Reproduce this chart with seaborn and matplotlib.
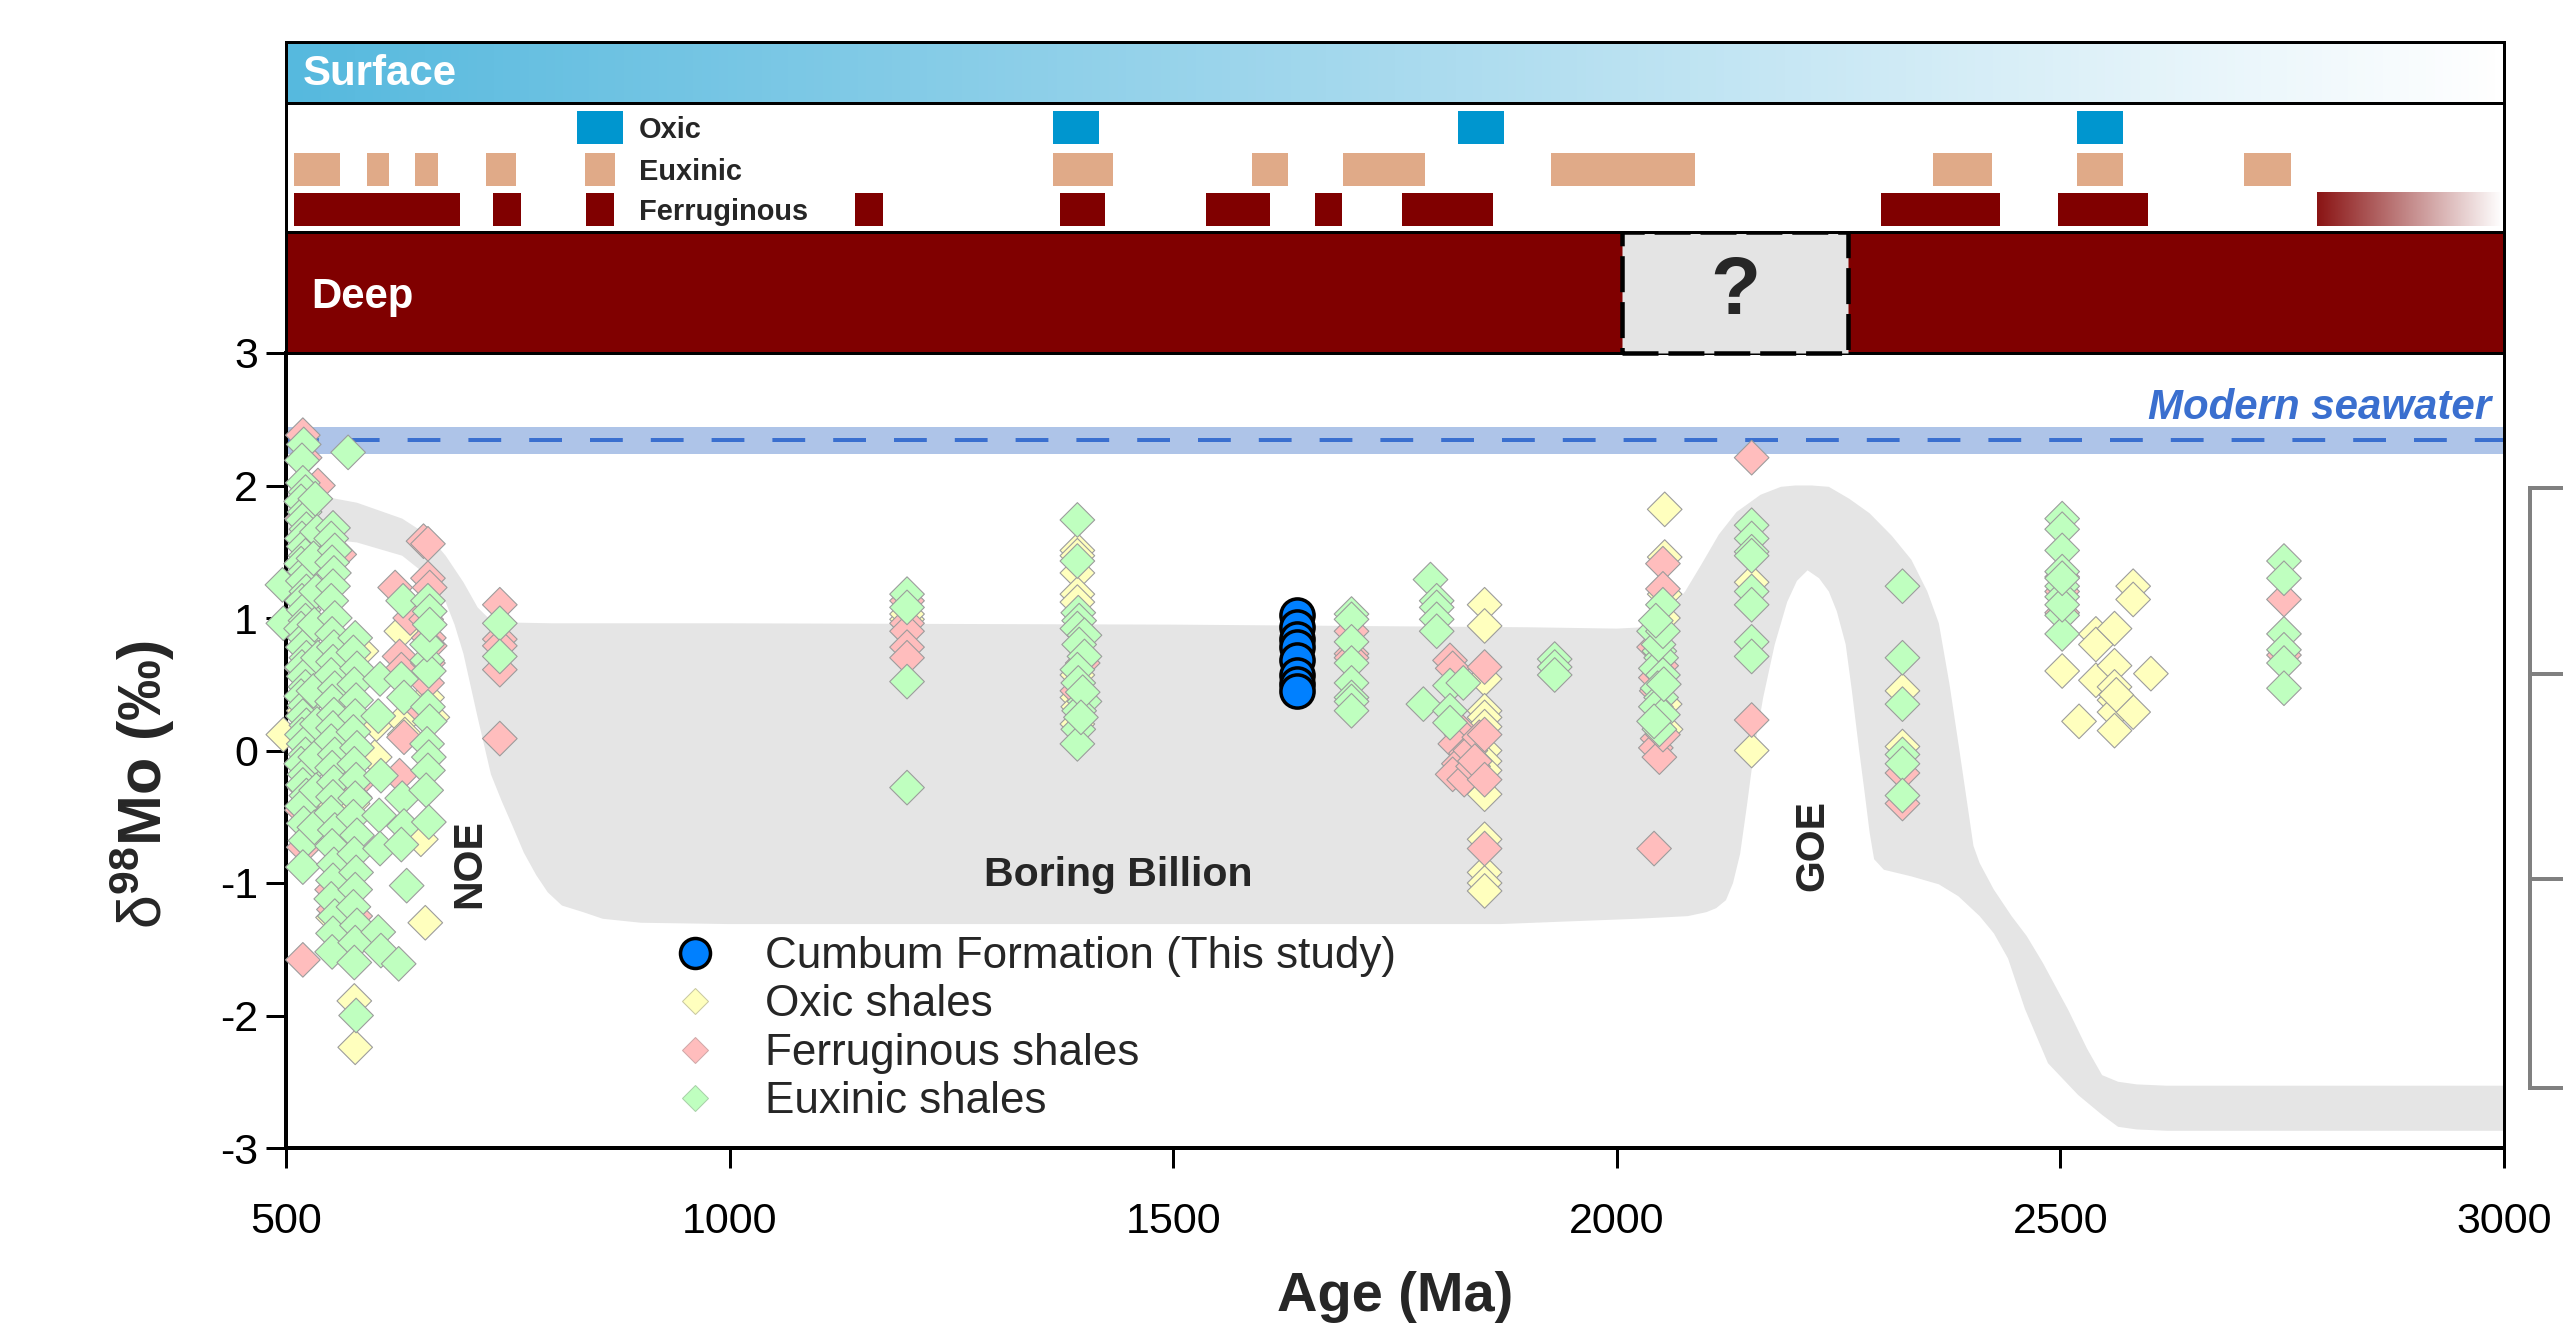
import numpy as np
import pandas as pd
import matplotlib
matplotlib.use("Agg")
import matplotlib.pyplot as plt
import seaborn as sns
from matplotlib.colors import LinearSegmentedColormap
from matplotlib.lines import Line2D
from matplotlib.patches import Rectangle, Polygon

sns.set_style("ticks")
plt.rcParams['font.family'] = ['Liberation Sans', 'DejaVu Sans']
plt.rcParams['axes.unicode_minus'] = False
plt.rcParams['mathtext.fontset'] = 'custom'
plt.rcParams['mathtext.rm'] = 'Liberation Sans'
plt.rcParams['mathtext.bf'] = 'Liberation Sans:bold'
plt.rcParams['mathtext.it'] = 'Liberation Sans:italic'

# ---------------- data ----------------
cumbum_age = [1640, 1640, 1640, 1640, 1640, 1640, 1640, 1640]
cumbum_d98 = [1.02, 0.93, 0.84, 0.78, 0.68, 0.57, 0.50, 0.45]

oxic_age = [497, 520, 518, 545, 553, 562, 560, 575, 575, 577, 578, 570, 585, 600, 602, 630, 632, 634,
            652, 659, 657, 665, 540, 585,
            1200, 1200,
            1392, 1392, 1392, 1392, 1392, 1392, 1392, 1392, 1393,
            1851, 1851, 1851, 1851, 1851, 1851, 1851, 1851, 1851, 1851, 1851, 1851, 1851, 1851,
            2054, 2054, 2054, 2052, 2054, 2055,
            2152, 2152, 2322, 2322, 2502,
            2521, 2540, 2540, 2540, 2561, 2561, 2561, 2561, 2561, 2561, 2582, 2582, 2582, 2602, 2563]
oxic_d98 = [0.12, 0.30, 0.62, 0.60, -1.26, 0.70, 0.35, -0.40, -1.45, -1.89, -2.24, 0.55, 0.75, -0.05, 0.20, 0.90, 0.23, 0.12,
            -0.67, 0.40, -1.30, 0.25, -0.35, -1.40,
            0.99, 1.03,
            1.51, 1.47, 1.34, 1.18, 1.12, 0.57, 0.40, 0.20, 0.33,
            1.10, 0.94, 0.54, 0.30, 0.25, 0.18, 0.00, -0.08, -0.15, -0.33, -0.67, -0.92, -1.00, -1.06,
            1.82, 1.46, 1.18, 1.00, 0.35, 0.16,
            1.27, 0.00, 0.45, 0.03, 0.60,
            0.22, 0.88, 0.80, 0.53, 0.92, 0.64, 0.48, 0.38, 0.29, 0.15, 1.24, 1.14, 0.29, 0.58, 0.42]

ferr_age = [519, 521, 536, 518, 520, 522, 519, 521, 518, 520, 519, 537, 546, 560, 553, 555, 552, 554, 565, 563,
            580, 578, 577, 623, 640, 628, 630, 628, 633, 655, 660, 660, 662, 658, 661, 662, 660, 659, 655,
            741, 741, 741, 741, 741,
            1200, 1200, 1200, 1200, 1200,
            1398, 1392,
            1701, 1701, 1701,
            1812, 1815, 1820, 1825, 1818, 1830, 1822, 1815, 1828, 1835, 1838, 1845, 1840,
            1851, 1851, 1851, 1851,
            2052, 2052, 2042, 2050, 2044, 2046, 2044, 2048, 2042, 2052, 2045,
            2152, 2152, 2322, 2322,
            2502, 2502, 2502, 2752, 2752]
ferr_d98 = [2.38, 2.21, 2.00, 1.75, 1.20, 0.60, -0.10, -0.28, -0.45, -0.73, -1.58, 0.45, 1.50, 1.48, 0.20, -0.55, -1.05, -1.20, 0.05, -0.55,
            -0.25, -1.25, -0.35, 1.23, 1.00, 0.71, 0.61, -0.19, 0.10, 1.58, 1.56, 1.30, 1.23, 0.99, 0.85, 0.79, 0.66, 0.51, 0.30,
            1.10, 0.84, 0.79, 0.61, 0.09,
            1.13, 0.96, 0.90, 0.78, 0.70,
            0.66, 0.45,
            0.90, 0.73, 0.70,
            0.68, 0.62, 0.18, 0.12, 0.05, -0.02, -0.10, -0.18, -0.22, 0.00, -0.12, 0.10, -0.08,
            0.63, 0.12, -0.22, -0.74,
            1.41, 1.22, 0.78, 0.64, 0.55, 0.09, 0.02, -0.05, -0.74, 0.12, 0.45,
            2.21, 0.23, -0.17, -0.40,
            1.31, 1.04, 1.20, 1.14, 0.72]

eux_age = [496, 497,
           520, 518, 519, 522, 517, 521, 519, 523, 518, 520, 522, 517, 521, 519, 523, 518, 520, 522, 517, 521,
           519, 523, 518, 520, 522, 517, 521, 519, 523, 518, 520, 522, 517, 521, 519, 523, 518, 520, 522, 519,
           533, 535, 531, 534, 532, 536, 531, 535, 533, 534, 532,
           553, 551, 555, 552, 554, 553, 551, 555, 552, 554, 553, 551, 555, 552, 554, 553, 551, 555, 552, 554,
           553, 551, 555, 552, 554, 553, 551, 555, 553, 552,
           570, 578, 576, 580, 577, 579, 578, 576, 580, 577, 579, 578, 576, 580, 577, 579, 578, 576, 580, 578, 577, 579,
           606, 604, 607, 605, 606, 604, 607,
           632, 630, 633, 631, 633, 630, 636, 627,
           660, 662, 659, 661, 660, 662, 659, 661, 660, 658, 661, 659, 662,
           741, 741,
           1200, 1200, 1200, 1200,
           1392, 1392, 1393, 1394, 1392, 1400, 1394, 1400, 1392, 1393, 1400, 1394, 1393, 1392, 1398, 1396,
           1701, 1701, 1701, 1701, 1701, 1701, 1701, 1701,
           1790, 1797, 1797, 1797, 1797, 1812, 1782, 1812, 1812, 1827,
           1930, 1930, 1930,
           2042, 2052, 2048, 2050, 2044, 2052, 2046, 2050, 2044, 2052, 2048, 2047, 2053, 2042, 2052, 2044,
           2152, 2152, 2152, 2152, 2152, 2152, 2152, 2152,
           2322, 2322, 2322, 2322, 2322, 2322,
           2502, 2502, 2502, 2502, 2502, 2502, 2502, 2502, 2502, 2502,
           2752, 2752, 2752, 2752, 2752, 2752]
eux_d98 = [1.25, 0.96,
           2.31, 2.19, 2.02, 1.95, 1.88, 1.80, 1.74, 1.67, 1.60, 1.54, 1.47, 1.41, 1.35, 1.28, 1.20, 1.13, 1.06, 0.98, 0.92, 0.85,
           0.78, 0.70, 0.63, 0.56, 0.48, 0.41, 0.34, 0.26, 0.19, 0.12, 0.05, -0.03, -0.10, -0.18, -0.26, -0.34, -0.42, -0.55, -0.68, -0.88,
           1.90, 1.65, 1.45, 1.20, 0.95, 0.70, 0.45, 0.20, -0.05, -0.30, -0.58,
           1.68, 1.60, 1.51, 1.42, 1.34, 1.24, 1.13, 1.00, 0.88, 0.78, 0.67, 0.57, 0.47, 0.37, 0.27, 0.17, 0.07, -0.03, -0.13, -0.24,
           -0.35, -0.47, -0.60, -0.72, -0.86, -0.98, -1.12, -1.25, -1.38, -1.52,
           2.25, 0.85, 0.74, 0.62, 0.50, 0.38, 0.26, 0.14, 0.02, -0.10, -0.22, -0.36, -0.50, -0.64, -0.78, -0.92, -1.05, -1.18, -1.32, -1.45, -1.60, -2.00,
           0.54, 0.26, -0.19, -0.49, -0.74, -1.37, -1.51,
           1.13, 0.54, 0.40, -0.36, -0.57, -0.71, -1.02, -1.61,
           1.13, 1.05, 0.68, 0.60, 0.33, 0.22, 0.05, -0.05, -0.15, -0.30, -0.54, 0.80, 0.95,
           0.96, 0.71,
           1.18, 1.08, 0.52, -0.28,
           1.74, 1.43, 1.04, 0.98, 0.92, 0.87, 0.80, 0.71, 0.61, 0.51, 0.37, 0.30, 0.16, 0.05, 0.44, 0.25,
           1.03, 0.99, 0.82, 0.66, 0.51, 0.40, 0.37, 0.30,
           1.29, 1.13, 1.08, 0.99, 0.90, 0.49, 0.35, 0.30, 0.21, 0.51,
           0.69, 0.63, 0.57,
           0.90, 1.10, 0.75, 0.70, 0.62, 0.57, 0.47, 0.40, 0.33, 0.27, 0.16, 0.80, 0.50, 0.22, 0.90, 0.98,
           1.70, 1.60, 1.50, 1.47, 1.20, 1.10, 0.82, 0.71,
           1.24, 0.70, 0.35, -0.03, -0.10, -0.34,
           1.75, 1.67, 1.51, 1.35, 1.24, 1.16, 1.02, 0.88, 1.10, 1.30,
           1.43, 1.30, 0.88, 0.76, 0.66, 0.47]

# envelope of the seawater d98Mo evolution (outline, Ma vs permil)
envelope_age = [500, 540, 580, 631, 661, 680, 700, 716, 731, 760, 800, 1000, 1500, 1900, 2000, 2030, 2055,
                2077, 2095, 2115, 2135, 2162, 2185, 2201, 2220, 2239, 2262, 2285, 2310, 2332, 2350, 2363,
                2375, 2386, 2395, 2402, 2409, 2425, 2445, 2462, 2480, 2509, 2530, 2547, 2565, 2586, 2620, 3000,
                3000, 2620, 2586, 2565, 2547, 2520, 2486, 2460, 2441, 2425, 2409, 2385, 2363, 2332, 2301,
                2290, 2285, 2279, 2273, 2265, 2258, 2248, 2239, 2228, 2215, 2203, 2192, 2178, 2165, 2155,
                2147, 2139, 2131, 2123, 2112, 2101, 2080, 2023, 1868, 1400, 1000, 900, 857, 835, 811, 795,
                782, 768, 756, 743, 731, 716, 700, 690, 680, 661, 631, 580, 540, 500]
envelope_d98 = [1.95, 1.92, 1.87, 1.75, 1.62, 1.47, 1.27, 1.08, 0.98, 0.965, 0.96, 0.96, 0.95, 0.93, 0.92, 0.93, 1.02,
                1.20, 1.40, 1.63, 1.80, 1.93, 1.99, 2.00, 2.00, 1.99, 1.90, 1.79, 1.62, 1.44, 1.20, 0.96,
                0.50, 0.01, -0.40, -0.72, -0.85, -1.05, -1.25, -1.40, -1.60, -1.96, -2.25, -2.45, -2.50, -2.52, -2.53, -2.53,
                -2.87, -2.87, -2.86, -2.84, -2.75, -2.60, -2.36, -1.95, -1.57, -1.38, -1.25, -1.10, -1.01, -0.95, -0.90,
                -0.82, -0.62, -0.30, 0.01, 0.45, 0.80, 1.05, 1.20, 1.30, 1.36, 1.28, 1.12, 0.80, 0.40, 0.01,
                -0.40, -0.78, -1.00, -1.13, -1.19, -1.22, -1.25, -1.27, -1.31, -1.31, -1.31, -1.30, -1.27, -1.22, -1.17, -1.07,
                -0.94, -0.77, -0.58, -0.38, -0.18, 0.25, 0.73, 0.95, 1.12, 1.31, 1.47, 1.57, 1.60, 1.62]

seawater_mean = 2.34
seawater_low, seawater_high = 2.24, 2.44

# redox facies intervals of the surface ocean (Ma)
oxic_start = [828, 1364, 1821, 2519]
oxic_end = [880, 1416, 1873, 2570]
euxinic_start = [509, 591, 645, 725, 837, 1365, 1589, 1691, 1926, 2356, 2519, 2707]
euxinic_end = [561, 616, 671, 759, 871, 1432, 1629, 1784, 2088, 2423, 2571, 2760]
ferr_start = [509, 733, 838, 1141, 1372, 1537, 1660, 1758, 2298, 2497]
ferr_end = [696, 765, 870, 1173, 1423, 1609, 1690, 1860, 2432, 2599]
ferr_fade = (2789, 2997)
deep_unknown = (2006, 2261)

facies_names = ['Oxic', 'Euxinic', 'Ferruginous']
facies_rows = [2.43, 1.46, 0.53]

x_ticks = [500, 1000, 1500, 2000, 2500, 3000]
y_ticks = [-3, -2, -1, 0, 1, 2, 3]

# ---------------- styling ----------------
C_OXIC_PT = '#ffffbe'
C_FERR_PT = '#ffbdbd'
C_EUX_PT = '#bfffbf'
C_CUMBUM = '#0080ff'
C_DEEP = '#800000'
C_OXIC_BAR = '#0096cf'
C_EUX_BAR = '#e0aa88'
C_ENVELOPE = '#e5e5e5'
C_SEAWATER = '#3a6fcf'
C_SEABAND = '#aec4e8'

W, H, DPI = 2575, 1328, 72
fig = plt.figure(figsize=(W / DPI, H / DPI), dpi=DPI)


def frac_box(x0, y0, x1, y1):
    return [x0 / W, 1 - y1 / H, (x1 - x0) / W, (y1 - y0) / H]


ax = fig.add_axes(frac_box(286, 353, 2504, 1148))
ax_deep = fig.add_axes(frac_box(286, 232, 2504, 353))
ax_fac = fig.add_axes(frac_box(286, 103, 2504, 232))
ax_surf = fig.add_axes(frac_box(286, 42, 2504, 103))

# ---------- main panel ----------
ax.add_patch(Polygon(np.column_stack([envelope_age, envelope_d98]), closed=True,
                     facecolor=C_ENVELOPE, edgecolor='none', zorder=1))
ax.axhspan(seawater_low, seawater_high, color=C_SEABAND, lw=0, zorder=1.5)
ax.axhline(seawater_mean, color=C_SEAWATER, lw=4, dashes=(8.2, 7.0), zorder=2)

shales = pd.DataFrame({
    'age': oxic_age + ferr_age + eux_age,
    'd98Mo': oxic_d98 + ferr_d98 + eux_d98,
    'facies': (['Oxic shales'] * len(oxic_age) + ['Ferruginous shales'] * len(ferr_age)
               + ['Euxinic shales'] * len(eux_age)),
})
palette = {'Oxic shales': C_OXIC_PT, 'Ferruginous shales': C_FERR_PT, 'Euxinic shales': C_EUX_PT}
sns.scatterplot(data=shales, x='age', y='d98Mo', hue='facies', palette=palette, marker='D',
                s=600, edgecolor='#9c9c9c', linewidth=1.1, legend=False, ax=ax, zorder=3)
cumbum = pd.DataFrame({'age': cumbum_age, 'd98Mo': cumbum_d98})
sns.scatterplot(data=cumbum, x='age', y='d98Mo', color=C_CUMBUM, marker='o', s=1100,
                edgecolor='black', linewidth=3.5, legend=False, ax=ax, zorder=4)
for coll in ax.collections:
    coll.set_clip_on(False)

ax.set_xlim(500, 3000)
ax.set_ylim(-3, 3)
ax.set_xticks(x_ticks)
ax.set_yticks(y_ticks)
ax.set_xticklabels([str(t) for t in x_ticks])
ax.set_yticklabels([str(t) for t in y_ticks])
ax.tick_params(axis='both', which='major', direction='out', length=20, width=3, labelsize=43,
               color='black', labelcolor='black')
ax.tick_params(axis='x', pad=34, top=False)
ax.tick_params(axis='y', pad=8, right=False)
for side in ['left', 'bottom']:
    ax.spines[side].set_linewidth(4)
for side in ['right', 'top']:
    ax.spines[side].set_linewidth(3)
for s in ax.spines.values():
    s.set_color('black')
ax.set_facecolor('none')

ax.set_xlabel('Age (Ma)', fontsize=56, fontweight='bold')
ax.xaxis.set_label_coords(0.5, -0.155)
ax.set_ylabel('$\\mathrm{\\delta}^{\\mathbf{98}}$Mo (‰)', fontsize=61, fontweight='bold')
ax.yaxis.set_label_coords(-0.049, 0.457)

ax.text(2985, 2.5, 'Modern seawater', color=C_SEAWATER, fontsize=42, fontweight='bold',
        fontstyle='italic', ha='right', va='baseline', zorder=5)
ax.text(707, -0.85, 'NOE', rotation=90, fontsize=41, fontweight='bold', ha='center', va='center', zorder=5)
ax.text(2220, -0.72, 'GOE', rotation=90, fontsize=41, fontweight='bold', ha='center', va='center', zorder=5)
ax.text(1438, -1.02, 'Boring Billion', fontsize=41, fontweight='bold', ha='center', va='baseline', zorder=5)

handles = [
    Line2D([], [], ls='', marker='o', ms=30, mfc=C_CUMBUM, mec='black', mew=3.5),
    Line2D([], [], ls='', marker='D', ms=19, mfc=C_OXIC_PT, mec='#c8c8a0', mew=1),
    Line2D([], [], ls='', marker='D', ms=19, mfc=C_FERR_PT, mec='#d0a8a8', mew=1),
    Line2D([], [], ls='', marker='D', ms=19, mfc=C_EUX_PT, mec='#a8d0a8', mew=1),
]
labels = ['Cumbum Formation (This study)', 'Oxic shales', 'Ferruginous shales', 'Euxinic shales']
ax.legend(handles, labels, loc='upper left', bbox_to_anchor=(673 / W, 1 - 936 / H),
          bbox_transform=fig.transFigure, frameon=False, fontsize=44, handlelength=1.0,
          handletextpad=1.1, labelspacing=0.17, borderpad=0, borderaxespad=0)

# ---------- deep ocean bar ----------
ax_deep.set_xlim(500, 3000)
ax_deep.set_ylim(0, 1)
ax_deep.set_facecolor(C_DEEP)
ax_deep.add_patch(Rectangle((deep_unknown[0], 0), deep_unknown[1] - deep_unknown[0], 1,
                            facecolor='#e4e4e4', edgecolor='black', lw=4.5, linestyle=(0, (8, 2.2)),
                            clip_on=False, zorder=3))
ax_deep.text(sum(deep_unknown) / 2, 0.5, '?', fontsize=82, fontweight='bold', ha='center',
             va='center', zorder=4)
ax_deep.text(528, 0.372, 'Deep', color='white', fontsize=42, fontweight='bold', ha='left', va='baseline')

# ---------- surface facies ----------
ax_fac.set_xlim(500, 3000)
ax_fac.set_ylim(0, 3)
bar_h = 0.77
ax_fac.barh([facies_rows[0]] * len(oxic_start), np.subtract(oxic_end, oxic_start), left=oxic_start,
            height=bar_h, color=C_OXIC_BAR, lw=0)
ax_fac.barh([facies_rows[1]] * len(euxinic_start), np.subtract(euxinic_end, euxinic_start),
            left=euxinic_start, height=bar_h, color=C_EUX_BAR, lw=0)
ax_fac.barh([facies_rows[2]] * len(ferr_start), np.subtract(ferr_end, ferr_start), left=ferr_start,
            height=bar_h, color=C_DEEP, lw=0)
fade_cmap = LinearSegmentedColormap.from_list('fade', ['#8a1414', '#c48a8a', '#ffffff'])
ax_fac.imshow(np.linspace(0, 1, 256)[None, :], cmap=fade_cmap, aspect='auto',
              extent=[ferr_fade[0], ferr_fade[1], facies_rows[2] - bar_h / 2, facies_rows[2] + bar_h / 2])
ax_fac.set_xlim(500, 3000)
ax_fac.set_ylim(0, 3)
for name, row in zip(facies_names, facies_rows):
    ax_fac.text(898, row - 0.245, name, fontsize=29, fontweight='bold', ha='left', va='baseline')

# ---------- surface gradient ----------
surf_cmap = LinearSegmentedColormap.from_list('surf', ['#56b9de', '#a8daee', '#ffffff'])
ax_surf.imshow(np.linspace(0, 1, 256)[None, :], cmap=surf_cmap, aspect='auto', extent=[500, 3000, 0, 1])
ax_surf.set_xlim(500, 3000)
ax_surf.set_ylim(0, 1)
ax_surf.text(519, 0.295, 'Surface', color='white', fontsize=42, fontweight='bold', ha='left', va='baseline')

for a in (ax_deep, ax_fac, ax_surf):
    a.set_xticks([])
    a.set_yticks([])
    for s in a.spines.values():
        s.set_linewidth(3)
        s.set_color('black')
        s.set_visible(True)

# ---------- scale bar on the right margin ----------
bracket_ticks = [0, 0.348, 0.69, 1.0]
ax_br = fig.add_axes(frac_box(2530, 488, 2570, 1088))
ax_br.set_ylim(0, 1)
ax_br.set_xlim(0, 1)
ax_br.patch.set_visible(False)
for side in ['top', 'right', 'bottom']:
    ax_br.spines[side].set_visible(False)
ax_br.spines['left'].set_color('#808080')
ax_br.spines['left'].set_linewidth(4)
ax_br.set_xticks([])
ax_br.set_yticks(bracket_ticks)
ax_br.set_yticklabels([])
ax_br.tick_params(axis='y', direction='in', length=33, width=4, color='#808080')

fig.savefig('out.png', dpi=DPI, facecolor='white')
